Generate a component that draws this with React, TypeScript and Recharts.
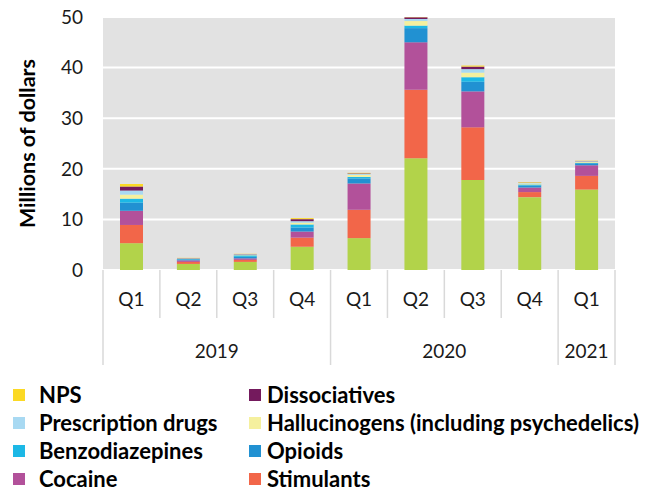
import React from 'react';
import { BarChart, Bar, XAxis, YAxis, CartesianGrid, Legend } from 'recharts';

const quarters = ['Q1', 'Q2', 'Q3', 'Q4', 'Q1', 'Q2', 'Q3', 'Q4', 'Q1'];
const years = ['2019', '2019', '2019', '2019', '2020', '2020', '2020', '2020', '2021'];

const cannabis = [5.3, 1.2, 1.6, 4.6, 6.3, 22.1, 17.8, 14.4, 15.9];
const stimulants = [3.6, 0.4, 0.4, 1.8, 5.6, 13.5, 10.4, 1.0, 2.7];
const cocaine = [2.8, 0.3, 0.3, 1.2, 5.2, 9.4, 7.1, 0.9, 2.1];
const opioids = [1.6, 0.2, 0.3, 0.8, 1.0, 2.8, 1.9, 0.4, 0.4];
const benzodiazepines = [0.8, 0.1, 0.3, 0.6, 0.3, 0.5, 0.9, 0.2, 0.1];
const hallucinogens = [0.8, 0.05, 0.1, 0.35, 0.4, 0.9, 0.9, 0.2, 0.2];
const prescriptionDrugs = [0.8, 0.05, 0.1, 0.3, 0.2, 0.4, 0.7, 0.1, 0.1];
const dissociatives = [0.8, 0.05, 0.05, 0.4, 0.1, 0.35, 0.5, 0.05, 0.05];
const nps = [0.5, 0.05, 0.05, 0.2, 0.1, 0.05, 0.2, 0.1, 0.05];

const yTicks = [0, 10, 20, 30, 40, 50];

const series = [
  { key: 'cannabis', name: 'Cannabis', values: cannabis, color: '#b2d34a', inLegend: false },
  { key: 'stimulants', name: 'Stimulants', values: stimulants, color: '#f26649', inLegend: true },
  { key: 'cocaine', name: 'Cocaine', values: cocaine, color: '#b2519a', inLegend: true },
  { key: 'opioids', name: 'Opioids', values: opioids, color: '#2191d2', inLegend: true },
  { key: 'benzodiazepines', name: 'Benzodiazepines', values: benzodiazepines, color: '#1cb8e6', inLegend: true },
  { key: 'hallucinogens', name: 'Hallucinogens (including psychedelics)', values: hallucinogens, color: '#f5f09e', inLegend: true },
  { key: 'prescription', name: 'Prescription drugs', values: prescriptionDrugs, color: '#a8d9f2', inLegend: true },
  { key: 'dissociatives', name: 'Dissociatives', values: dissociatives, color: '#741a5d', inLegend: true },
  { key: 'nps', name: 'NPS', values: nps, color: '#fbd924', inLegend: true },
];

const legendOrder = [
  'NPS', 'Dissociatives',
  'Prescription drugs', 'Hallucinogens (including psychedelics)',
  'Benzodiazepines', 'Opioids',
  'Cocaine', 'Stimulants',
];

const data = quarters.map((q, i) => {
  const row: any = { quarter: q, year: years[i], idx: i };
  series.forEach((s) => { row[s.key] = s.values[i]; });
  return row;
});

const W = 647;
const H = 492;
const PLOT_LEFT = 103;
const PLOT_RIGHT = 615;
const PLOT_TOP = 17;
const PLOT_BOTTOM = 270;
const X_AXIS_H = 95;
const BAND = (PLOT_RIGHT - PLOT_LEFT) / quarters.length;
const FONT = 'Lato, "Open Sans", sans-serif';
const SEP = '#d9d9d9';
const TXT = '#1a1a1a';

function QuarterTick(props: any) {
  const { x, payload } = props;
  const i = payload?.index ?? props.index;
  const left = x - BAND / 2;
  const isYearStart = i === 0 || years[i] !== years[i - 1];
  const isLast = i === quarters.length - 1;
  let yearLabel = null;
  if (isYearStart) {
    let n = 0;
    while (i + n < years.length && years[i + n] === years[i]) n++;
    yearLabel = (
      <text x={left + (n * BAND) / 2} y={PLOT_BOTTOM + 80} textAnchor="middle" dominantBaseline="central"
        fontFamily={FONT} fontSize={19} fill={TXT}>{years[i]}</text>
    );
  }
  return (
    <g>
      <line x1={left} x2={left} y1={PLOT_BOTTOM} y2={PLOT_BOTTOM + (isYearStart ? 95 : 48)} stroke={SEP} strokeWidth={1.5} />
      {isLast && (
        <line x1={left + BAND} x2={left + BAND} y1={PLOT_BOTTOM} y2={PLOT_BOTTOM + 95} stroke={SEP} strokeWidth={1.5} />
      )}
      <text x={x} y={PLOT_BOTTOM + 28} textAnchor="middle" dominantBaseline="central"
        fontFamily={FONT} fontSize={19} fill={TXT}>{quarters[i]}</text>
      {yearLabel}
    </g>
  );
}

function YTitle(props: any) {
  const vb = props.viewBox || {};
  const cx = (vb.x ?? 0) + 27;
  const cy = (vb.y ?? 0) + (vb.height ?? 0) / 2;
  return (
    <text x={cx} y={cy} transform={`rotate(-90, ${cx}, ${cy})`} textAnchor="middle" dominantBaseline="central"
      fontFamily={FONT} fontSize={21.5} fontWeight={700} fill="#000">Millions of dollars</text>
  );
}

function LegendGrid() {
  return (
    <div style={{ position: 'relative', width: W, height: 112, fontFamily: FONT }}>
      {legendOrder.map((name, k) => {
        const s = series.find((t) => t.name === name)!;
        const col = k % 2;
        const row = Math.floor(k / 2);
        const sqLeft = col === 0 ? 13 : 249;
        const textLeft = col === 0 ? 39 : 267;
        const top = row * 28;
        return (
          <div key={name}>
            <div style={{ position: 'absolute', left: sqLeft, top: top + 8, width: 12, height: 12, background: s.color }} />
            <div style={{ position: 'absolute', left: textLeft, top: top, height: 28, lineHeight: '28px',
              fontSize: 22, fontWeight: 700, color: '#000', whiteSpace: 'nowrap' }}>{name}</div>
          </div>
        );
      })}
    </div>
  );
}

export default function App() {
  return (
    <div style={{ position: 'absolute', left: 0, top: 0, width: W, height: H, background: '#fff' }}>
      <BarChart
        width={W}
        height={H}
        data={data}
        margin={{ top: PLOT_TOP, right: W - PLOT_RIGHT, left: 0, bottom: H - PLOT_BOTTOM - X_AXIS_H }}
        barSize={23}
      >
        <CartesianGrid vertical={false} fill="#e2e2e2" stroke="#ffffff" strokeWidth={2} />
        <XAxis
          dataKey="idx"
          type="category"
          height={X_AXIS_H}
          interval={0}
          axisLine={false}
          tickLine={false}
          tick={<QuarterTick />}
        />
        <YAxis
          width={PLOT_LEFT}
          domain={[0, 50]}
          ticks={yTicks}
          allowDataOverflow
          axisLine={false}
          tickLine={false}
          tickSize={0}
          tickMargin={20}
          tick={{ fontFamily: FONT, fontSize: 19, fill: TXT }}
          label={<YTitle />}
        />
        <Legend
          layout="horizontal"
          verticalAlign="middle"
          align="center"
          wrapperStyle={{ top: 381, left: 0, width: W, height: 112 }}
          content={() => <LegendGrid />}
        />
        {series.map((s) => (
          <Bar
            key={s.key}
            dataKey={s.key}
            name={s.name}
            stackId="a"
            fill={s.color}
            isAnimationActive={false}
            legendType={s.inLegend ? 'square' : 'none'}
          />
        ))}
      </BarChart>
    </div>
  );
}
